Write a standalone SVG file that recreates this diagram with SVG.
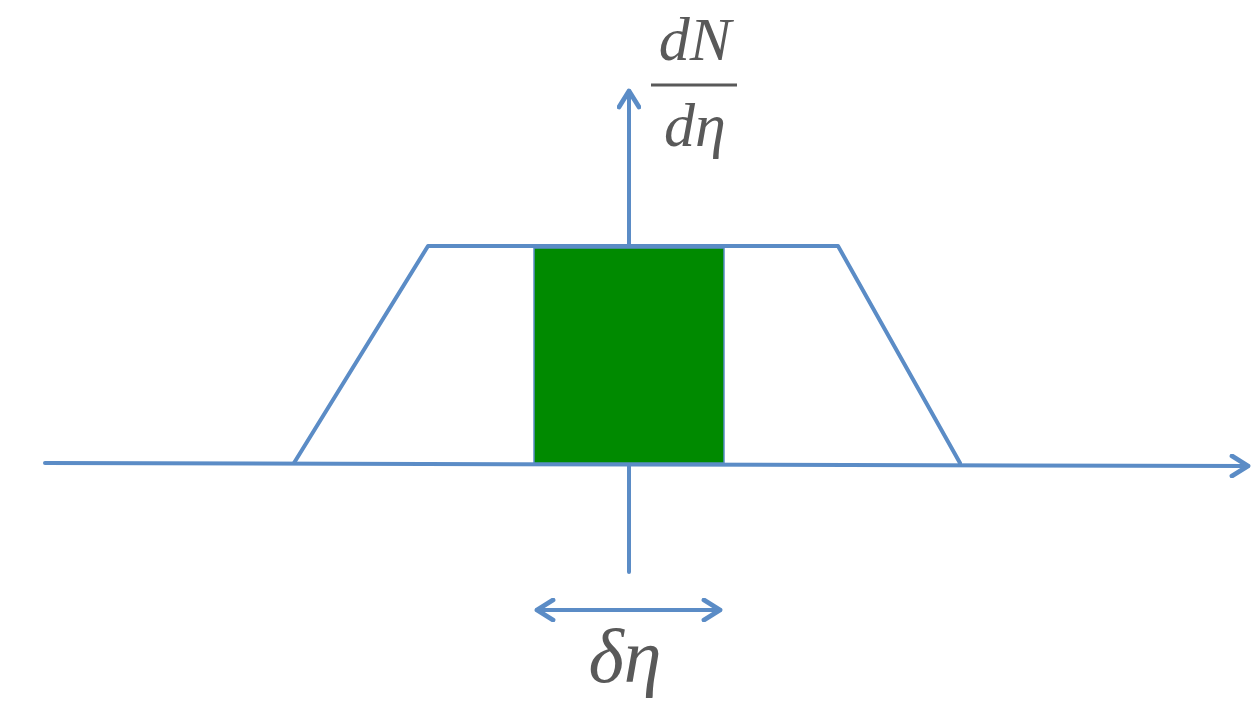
<svg xmlns="http://www.w3.org/2000/svg" width="1254" height="702" viewBox="0 0 1254 702">
<style>
.ln{stroke:#5b8cc6;stroke-width:4;fill:none;stroke-linecap:round;stroke-linejoin:round}
.tx{font-family:"Liberation Serif","DejaVu Serif",serif;font-style:italic;fill:#595959;text-anchor:middle}
</style>
<defs>
<marker id="ah" viewBox="0 0 12 12" refX="10" refY="6" markerWidth="6" markerHeight="6" orient="auto-start-reverse" markerUnits="strokeWidth">
<path d="M2,1 L10,6 L2,11" fill="none" stroke="#5b8cc6" stroke-width="2.4" stroke-linecap="round" stroke-linejoin="round"/>
</marker>
</defs>
<rect width="1254" height="702" fill="#ffffff"/>
<g id="connectors">
<line class="ln" x1="45" y1="463" x2="1248" y2="466" marker-end="url(#ah)"/>
<line class="ln" x1="629" y1="572" x2="629" y2="91" marker-end="url(#ah)"/>
<line class="ln" x1="537" y1="610" x2="720" y2="610" marker-start="url(#ah)" marker-end="url(#ah)"/>
</g>
<g id="trapezoid">
<polyline class="ln" points="294,463 428,246 838,246 960,463"/>
</g>
<g id="bin">
<rect x="534" y="248" width="190" height="215" fill="#008a00" stroke="#5b8cc6" stroke-width="1.5"/>
</g>
<g id="label-dNdeta">
<text class="tx" x="695" y="60" font-size="62">dN</text>
<line x1="651" y1="85" x2="737" y2="85" stroke="#595959" stroke-width="3"/>
<text class="tx" x="695" y="146" font-size="62">dη</text>
</g>
<g id="label-deta">
<text class="tx" x="625" y="682" font-size="76">δη</text>
</g>
</svg>
